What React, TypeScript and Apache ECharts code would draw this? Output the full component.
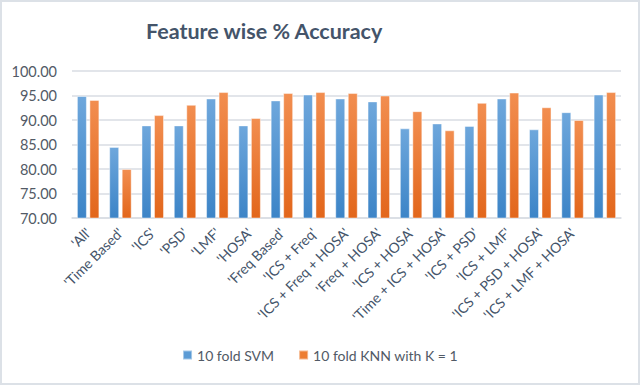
import React, { useEffect, useRef } from "react";
import * as echarts from "echarts";

const categories = [
  "'All'",
  "'Time Based'",
  "'ICS'",
  "'PSD'",
  "'LMF'",
  "'HOSA'",
  "'Freq Based'",
  "'ICS + Freq'",
  "'ICS + Freq + HOSA'",
  "'Freq + HOSA'",
  "'ICS + HOSA'",
  "'Time + ICS + HOSA'",
  "'ICS + PSD'",
  "'ICS + LMF'",
  "'ICS + PSD + HOSA'",
  "'ICS + LMF + HOSA'",
  "",
];

const svmValues = [94.9, 84.5, 88.9, 88.9, 94.4, 88.9, 94.0, 95.2, 94.4, 93.8, 88.3, 89.3, 88.8, 94.4, 88.1, 91.6, 95.2];
const knnValues = [94.1, 80.0, 91.0, 93.1, 95.7, 90.4, 95.5, 95.7, 95.5, 95.0, 91.8, 87.9, 93.5, 95.6, 92.6, 90.0, 95.7];

const seriesNames = ["10 fold SVM", "10 fold KNN with K = 1"];
const titleText = "Feature wise % Accuracy";

export default function App() {
  const ref = useRef<HTMLDivElement>(null);
  useEffect(() => {
    if (!ref.current) return;
    const chart = echarts.init(ref.current, null, { renderer: "svg" });
    const font = "Lato, 'Open Sans', sans-serif";
    const blueGrad = new echarts.graphic.LinearGradient(0, 0, 0, 1, [
      { offset: 0, color: "#6ea7dc" },
      { offset: 1, color: "#3c84c7" },
    ]);
    const orangeGrad = new echarts.graphic.LinearGradient(0, 0, 0, 1, [
      { offset: 0, color: "#f28e50" },
      { offset: 1, color: "#e2661b" },
    ]);
    chart.setOption({
      animation: false,
      backgroundColor: "#ffffff",
      title: {
        text: titleText,
        left: 141,
        top: 15,
        textStyle: { fontFamily: font, fontWeight: "bold", fontSize: 21.5, color: "#44546a" },
      },
      graphic: [
        {
          type: "rect",
          shape: { x: 1, y: 1, width: 638, height: 383 },
          style: { fill: "none", stroke: "#dce1e7", lineWidth: 2 },
          silent: true,
        },
      ],
      legend: {
        bottom: 18,
        left: "center",
        itemWidth: 9,
        itemHeight: 9,
        itemGap: 24,
        icon: "rect",
        textStyle: { fontFamily: font, fontSize: 14, color: "#525a66" },
        data: [
          { name: seriesNames[0], itemStyle: { color: "#5b9bd5" } },
          { name: seriesNames[1], itemStyle: { color: "#ed7d31" } },
        ],
      },
      grid: { left: 72, right: 19, top: 71, bottom: 167 },
      xAxis: {
        type: "category",
        data: categories,
        axisLine: { lineStyle: { color: "#d9dde3", width: 1.5 } },
        axisTick: { show: false },
        axisLabel: {
          interval: 0,
          rotate: 45,
          fontFamily: font,
          fontSize: 14,
          color: "#44546a",
          margin: 12,
        },
      },
      yAxis: {
        type: "value",
        min: 70,
        max: 100,
        interval: 5,
        axisLine: { show: false },
        axisTick: { show: false },
        splitLine: { lineStyle: { color: "#d9dde3", width: 1.5 } },
        axisLabel: {
          fontFamily: font,
          fontSize: 14.5,
          color: "#525a66",
          margin: 15,
          formatter: (v: number) => v.toFixed(2),
        },
      },
      series: [
        {
          name: seriesNames[0],
          type: "bar",
          data: svmValues,
          barWidth: 10,
          barGap: "25%",
          itemStyle: { color: blueGrad, borderColor: "rgba(255,255,255,0.45)", borderWidth: 1 },
        },
        {
          name: seriesNames[1],
          type: "bar",
          data: knnValues,
          barWidth: 10,
          barGap: "25%",
          itemStyle: { color: orangeGrad, borderColor: "rgba(255,255,255,0.45)", borderWidth: 1 },
        },
      ],
    });
    return () => chart.dispose();
  }, []);
  return (
    <div
      ref={ref}
      style={{ position: "fixed", left: 0, top: 0, width: 640, height: 385 }}
    />
  );
}
